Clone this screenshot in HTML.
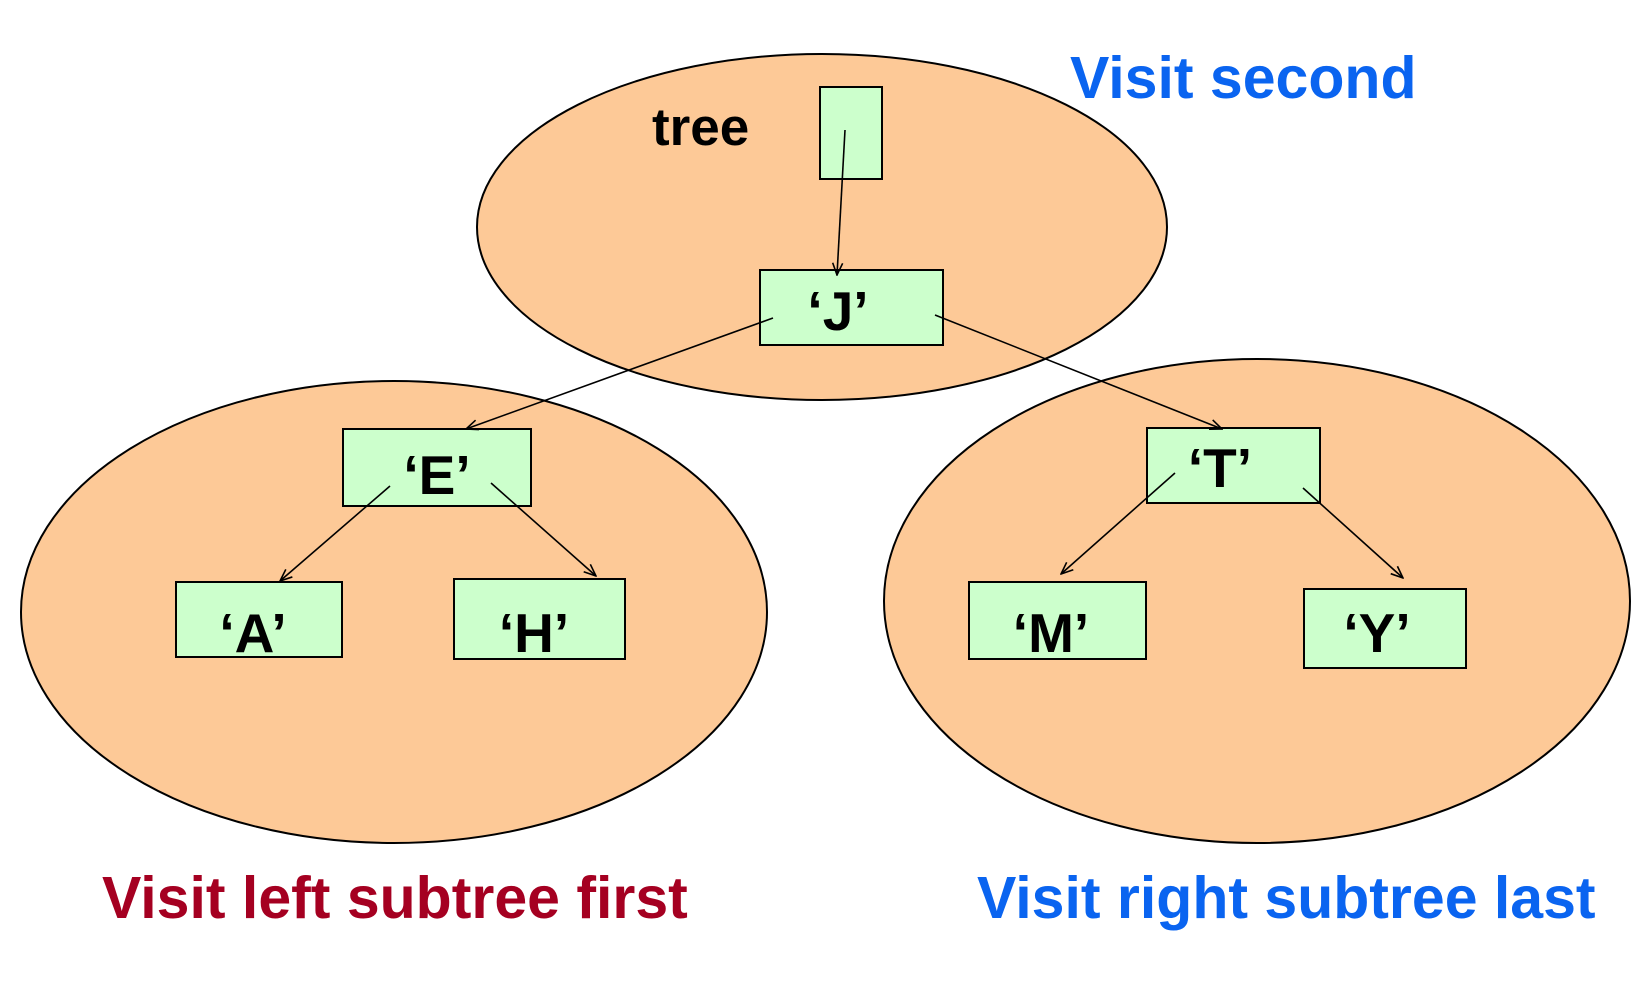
<!DOCTYPE html>
<html><head><style>body{margin:0;background:#fff}svg{display:block}</style></head>
<body>
<svg width="1648" height="1000" viewBox="0 0 1648 1000" xmlns="http://www.w3.org/2000/svg" font-family="Liberation Sans, sans-serif" font-weight="bold">
<defs>
<marker id="a" markerWidth="14" markerHeight="12" refX="13" refY="6" orient="auto" markerUnits="userSpaceOnUse">
<path d="M1,1 L13,6 L1,11" fill="none" stroke="#000" stroke-width="1.6"/>
</marker>
</defs>
<g fill="#fdc997" stroke="#000" stroke-width="2">
<ellipse cx="822" cy="227" rx="345" ry="173"/>
<ellipse cx="394" cy="612" rx="373" ry="231"/>
<ellipse cx="1257" cy="601" rx="373" ry="242"/>
</g>
<g fill="#ccffcc" stroke="#000" stroke-width="2">
<rect x="820" y="87" width="62" height="92"/>
<rect x="760" y="270" width="183" height="75"/>
<rect x="343" y="429" width="188" height="77"/>
<rect x="176" y="582" width="166" height="75"/>
<rect x="454" y="579" width="171" height="80"/>
<rect x="1147" y="428" width="173" height="75"/>
<rect x="969" y="582" width="177" height="77"/>
<rect x="1304" y="589" width="162" height="79"/>
</g>
<g stroke="#000" stroke-width="1.6" marker-end="url(#a)">
<line x1="845" y1="130" x2="837" y2="275"/>
<line x1="773" y1="318" x2="466" y2="429"/>
<line x1="935" y1="315" x2="1222" y2="429"/>
<line x1="390" y1="486" x2="280" y2="581"/>
<line x1="491" y1="483" x2="596" y2="576"/>
<line x1="1175" y1="473" x2="1061" y2="574"/>
<line x1="1303" y1="488" x2="1403" y2="578"/>
</g>
<g font-size="55" text-anchor="middle" fill="#000">
<text x="838" y="330">‘J’</text>
<text x="437" y="494">‘E’</text>
<text x="253" y="652">‘A’</text>
<text x="534" y="652">‘H’</text>
<text x="1220" y="487">‘T’</text>
<text x="1051" y="652">‘M’</text>
<text x="1377" y="652">‘Y’</text>
</g>
<text x="652" y="145" font-size="53" fill="#000">tree</text>
<text x="1070" y="98" font-size="59" fill="#0a64f0">Visit second</text>
<text x="102" y="918" font-size="59" fill="#a50021">Visit left subtree first</text>
<text x="977" y="918" font-size="59" fill="#0a64f0">Visit right subtree last</text>
</svg>
</body></html>
